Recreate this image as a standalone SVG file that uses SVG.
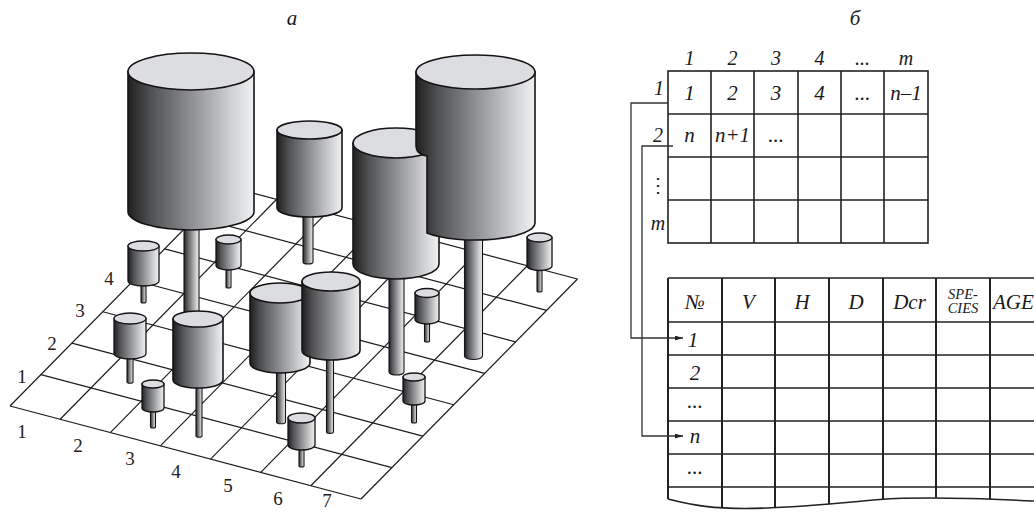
<svg xmlns="http://www.w3.org/2000/svg" width="1034" height="512" viewBox="0 0 1034 512">
<style>
.body{fill:url(#cyl);stroke:#141414;stroke-width:1.6}
.top{fill:#dcdde0;stroke:#141414;stroke-width:1.6}
.sm .body,.sm .top{stroke-width:1.3}
.stem{fill:url(#cyl);stroke:#141414;stroke-width:1.1}
.grid line{stroke:#1c1c1c;stroke-width:1.2}
.num{font-family:"Liberation Serif","Times New Roman",serif;font-size:19px;fill:#222;text-anchor:middle}
.it{font-family:"Liberation Serif","Times New Roman",serif;font-style:italic;fill:#1a1a1a;text-anchor:middle}
.t20{font-size:20px}
.t21{font-size:21px}
.tl{stroke:#222;stroke-width:1.6;fill:none}
.tv{stroke:#222;stroke-width:2;fill:none}
.conn{stroke:#333;stroke-width:1.3;fill:none}
</style>
<defs>
<linearGradient id="cyl" x1="0" y1="0" x2="1" y2="0">
<stop offset="0" stop-color="#1f1f1f"/>
<stop offset="0.18" stop-color="#4f5052"/>
<stop offset="0.5" stop-color="#8e8f92"/>
<stop offset="0.82" stop-color="#cfd0d2"/>
<stop offset="1" stop-color="#f0f1f2"/>
</linearGradient>
<marker id="arr" viewBox="0 0 10 6" refX="10" refY="3" markerWidth="8" markerHeight="5" markerUnits="userSpaceOnUse" orient="auto">
<path d="M0,0 L10,3 L0,6 Z" fill="#222"/>
</marker>
<clipPath id="wave">
<path d="M660,270 H1040 V501 L1034,501 C970,498 920,496.5 880,499.5 C840,503 790,508.5 745,508.5 C715,508.5 695,506 668,499 L660,499 Z"/>
</clipPath>
</defs>
<rect width="1034" height="512" fill="#fff"/>

<text class="it t21" x="292" y="25">а</text>
<text class="it t21" x="855" y="25">б</text>

<g id="grid" class="grid">
<line x1="10" y1="406" x2="360.98" y2="499.03"/>
<line x1="40.93" y1="374.57" x2="391.91" y2="467.6"/>
<line x1="71.86" y1="343.14" x2="422.84" y2="436.17"/>
<line x1="102.79" y1="311.71" x2="453.77" y2="404.74"/>
<line x1="133.72" y1="280.28" x2="484.7" y2="373.31"/>
<line x1="164.65" y1="248.85" x2="515.63" y2="341.88"/>
<line x1="195.58" y1="217.42" x2="546.56" y2="310.45"/>
<line x1="226.51" y1="185.99" x2="577.49" y2="279.02"/>
<line x1="10" y1="406" x2="226.51" y2="185.99"/>
<line x1="60.14" y1="419.29" x2="276.65" y2="199.28"/>
<line x1="110.28" y1="432.58" x2="326.79" y2="212.57"/>
<line x1="160.42" y1="445.87" x2="376.93" y2="225.86"/>
<line x1="210.56" y1="459.16" x2="427.07" y2="239.15"/>
<line x1="260.7" y1="472.45" x2="477.21" y2="252.44"/>
<line x1="310.84" y1="485.74" x2="527.35" y2="265.73"/>
<line x1="360.98" y1="499.03" x2="577.49" y2="279.02"/>
</g>
<g id="grid-labels">
<text class="num" x="22" y="383">1</text>
<text class="num" x="52" y="350">2</text>
<text class="num" x="80" y="317">3</text>
<text class="num" x="109" y="285">4</text>
<text class="num" x="22" y="438">1</text>
<text class="num" x="78" y="452">2</text>
<text class="num" x="130" y="465">3</text>
<text class="num" x="176" y="478">4</text>
<text class="num" x="228" y="492">5</text>
<text class="num" x="278" y="505">6</text>
<text class="num" x="327" y="507">7</text>
</g>

<g id="cyl-H">
<path class="stem" d="M303,205 L303,262 A5 2 0 0 0 313,262 L313,205 Z"/>
<path class="body" d="M277,130 L277,208 A32.5 9 0 0 0 342,208 L342,130 Z"/>
<ellipse class="top" cx="309.5" cy="130" rx="32.5" ry="9"/>
</g>
<g id="cyl-C6" class="sm">
<path class="stem" d="M537,264 L537,291 A2.5 1 0 0 0 542,291 L542,264 Z"/>
<path class="body" d="M527,237.5 L527,266 A12.5 4.5 0 0 0 552,266 L552,237.5 Z"/>
<ellipse class="top" cx="539.5" cy="237.5" rx="12.5" ry="4.5"/>
</g>
<g id="cyl-C2" class="sm">
<path class="stem" d="M226,263 L226,287 A2.5 1 0 0 0 231,287 L231,263 Z"/>
<path class="body" d="M216,239.5 L216,265.5 A12.5 4.5 0 0 0 241,265.5 L241,239.5 Z"/>
<ellipse class="top" cx="228.5" cy="239.5" rx="12.5" ry="4.5"/>
</g>
<g id="cyl-C1" class="sm">
<path class="stem" d="M141,278 L141,302 A2.5 1 0 0 0 146,302 L146,278 Z"/>
<path class="body" d="M128,246 L128,281 A15.5 5 0 0 0 159,281 L159,246 Z"/>
<ellipse class="top" cx="143.5" cy="246" rx="15.5" ry="5"/>
</g>
<g id="cyl-A">
<path class="stem" d="M184,205 L184,345 A7.5 3 0 0 0 199,345 L199,205 Z"/>
<path class="body" d="M128,71.5 L128,211.5 A63 18.5 0 0 0 254,211.5 L254,71.5 Z"/>
<ellipse class="top" cx="191" cy="71.5" rx="63" ry="18.5"/>
</g>
<g id="cyl-F">
<path class="stem" d="M389,260 L389,372 A7.5 3 0 0 0 404,372 L404,260 Z"/>
<path class="body" d="M353,143 L353,264 A43 15 0 0 0 439,264 L439,143 Z"/>
<ellipse class="top" cx="396" cy="143" rx="43" ry="15"/>
</g>
<g id="cyl-G">
<path class="stem" d="M464.5,220 L464.5,356 A9 3.5 0 0 0 482.5,356 L482.5,220 Z"/>
<path class="body" d="M416,72 L416,145 C416,151 420,155 427,156 L427,232.9 A59.5 17 0 0 0 535,223 L535,72 Z"/>
<ellipse class="top" cx="475.5" cy="72" rx="59.5" ry="17"/>
</g>
<g id="cyl-C7" class="sm">
<path class="stem" d="M424.5,317 L424.5,341 A2.5 1 0 0 0 429.5,341 L429.5,317 Z"/>
<path class="body" d="M415,293 L415,319.5 A12 4.5 0 0 0 439,319.5 L439,293 Z"/>
<ellipse class="top" cx="427" cy="293" rx="12" ry="4.5"/>
</g>
<g id="cyl-C3" class="sm">
<path class="stem" d="M127,350 L127,382 A3 1.2 0 0 0 133,382 L133,350 Z"/>
<path class="body" d="M114,318.5 L114,353.5 A16 5.5 0 0 0 146,353.5 L146,318.5 Z"/>
<ellipse class="top" cx="130" cy="318.5" rx="16" ry="5.5"/>
</g>
<g id="cyl-D">
<path class="stem" d="M276.5,360 L276.5,422 A4.5 1.8 0 0 0 285.5,422 L285.5,360 Z"/>
<path class="body" d="M250,293 L250,363 A30 10 0 0 0 310,363 L310,293 Z"/>
<ellipse class="top" cx="280" cy="293" rx="30" ry="10"/>
</g>
<g id="cyl-C9" class="sm">
<path class="stem" d="M411.5,399 L411.5,422 A2.5 1 0 0 0 416.5,422 L416.5,399 Z"/>
<path class="body" d="M403,377 L403,401 A11 4 0 0 0 425,401 L425,377 Z"/>
<ellipse class="top" cx="414" cy="377" rx="11" ry="4"/>
</g>
<g id="cyl-E">
<path class="stem" d="M326.5,348 L326.5,432 A3.5 1.4 0 0 0 333.5,432 L333.5,348 Z"/>
<path class="body" d="M302,281.5 L302,350.5 A29 9.5 0 0 0 360,350.5 L360,281.5 Z"/>
<ellipse class="top" cx="331" cy="281.5" rx="29" ry="9.5"/>
</g>
<g id="cyl-B">
<path class="stem" d="M196,377 L196,436 A3 1.2 0 0 0 202,436 L202,377 Z"/>
<path class="body" d="M173,319 L173,380 A25 8 0 0 0 223,380 L223,319 Z"/>
<ellipse class="top" cx="198" cy="319" rx="25" ry="8"/>
</g>
<g id="cyl-C4" class="sm">
<path class="stem" d="M150.5,406 L150.5,427 A2.5 1 0 0 0 155.5,427 L155.5,406 Z"/>
<path class="body" d="M142,384 L142,408 A11 4 0 0 0 164,408 L164,384 Z"/>
<ellipse class="top" cx="153" cy="384" rx="11" ry="4"/>
</g>
<g id="cyl-C5" class="sm">
<path class="stem" d="M299,442 L299,466 A2.5 1 0 0 0 304,466 L304,442 Z"/>
<path class="body" d="M288,418 L288,445 A13.5 5 0 0 0 315,445 L315,418 Z"/>
<ellipse class="top" cx="301.5" cy="418" rx="13.5" ry="5"/>
</g>

<g id="matrix">
<rect class="tl" x="668" y="71" width="260" height="172"/>
<path class="tl" d="M711,71 V243 M754,71 V243 M798,71 V243 M841,71 V243 M884,71 V243 M668,114 H928 M668,157 H928 M668,200 H928"/>
<g class="it t20">
<text x="689.5" y="65">1</text>
<text x="732.5" y="65">2</text>
<text x="776" y="65">3</text>
<text x="819.5" y="65">4</text>
<text x="862.5" y="65">...</text>
<text x="906" y="65">m</text>
<text x="659" y="95">1</text>
<text x="658" y="142">2</text>
<text x="658" y="230">m</text>
</g>
<text class="it" x="658" y="192" font-size="20" font-family="DejaVu Serif, serif" style="font-style:normal">⋮</text>
<g class="it t21">
<text x="689.5" y="100">1</text>
<text x="732.5" y="100">2</text>
<text x="776" y="100">3</text>
<text x="819.5" y="100">4</text>
<text x="862.5" y="100">...</text>
<text x="906" y="100">n–1</text>
<text x="689.5" y="142">n</text>
<text x="732.5" y="142">n+1</text>
<text x="776" y="142">...</text>
</g>
</g>

<g id="records">
<g clip-path="url(#wave)">
<path class="tv" d="M668,278 V512 M722,278 V512 M775,278 V512 M829,278 V512 M883,278 V512 M936,278 V512 M990,278 V512"/>
</g>
<path class="tl" d="M668,278 H1034 M668,322 H1034 M668,355 H1034 M668,388 H1034 M668,421 H1034 M668,454 H1034 M668,487 H1034"/>
<path class="tl" d="M668,499 C695,506 715,508.5 745,508.5 C790,508.5 840,503 880,499.5 C920,496.5 970,498 1034,501"/>
<g class="it t21">
<text x="695" y="309">№</text>
<text x="748.5" y="309">V</text>
<text x="802" y="309">H</text>
<text x="856" y="309">D</text>
<text x="909.5" y="309">Dcr</text>
<text x="993" y="309" style="text-anchor:start">AGE</text>
<text x="693" y="347">1</text>
<text x="695" y="380">2</text>
<text x="695" y="408">...</text>
<text x="695" y="443">n</text>
<text x="695" y="474">...</text>
</g>
<g class="it" font-size="14.5">
<text x="963" y="299">SPE-</text>
<text x="963" y="313">CIES</text>
</g>
</g>

<g id="connectors">
<path class="conn" d="M668,103 H631 V338 H683" marker-end="url(#arr)"/>
<path class="conn" d="M673,146 H642 V436 H683" marker-end="url(#arr)"/>
</g>
</svg>
